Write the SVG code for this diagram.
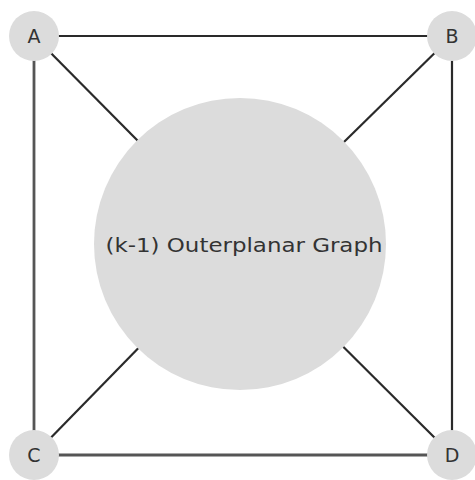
<svg xmlns="http://www.w3.org/2000/svg" width="475" height="480" viewBox="0 0 475 480">
<style>
.edge{stroke:#2a2a2a;stroke-width:2.2;fill:none}
.edge2{stroke:#555;stroke-width:2.8;fill:none}
.node{fill:#dcdcdc}
.lbl{font-family:"DejaVu Sans","Liberation Sans",sans-serif;fill:#333;text-anchor:middle}
</style>
<rect width="475" height="480" fill="#fff"/>
<g id="connectors">
<line class="edge" x1="34" y1="36" x2="452" y2="36"/>
<line class="edge" x1="452" y1="36" x2="452" y2="455"/>
<line class="edge2" x1="34" y1="36" x2="34" y2="455"/>
<line class="edge2" x1="34" y1="455" x2="452" y2="455"/>
<line class="edge" x1="34" y1="36" x2="240" y2="244"/>
<line class="edge" x1="452" y1="36" x2="240" y2="244"/>
<line class="edge" x1="34" y1="455" x2="240" y2="244"/>
<line class="edge" x1="452" y1="455" x2="240" y2="244"/>
</g>
<g id="graph">
<circle class="node" cx="240" cy="244" r="146"/>
<text class="lbl" x="244" y="252" font-size="20" textLength="277" lengthAdjust="spacingAndGlyphs">(k-1) Outerplanar Graph</text>
</g>
<g id="A"><circle class="node" cx="34" cy="36" r="25"/><text class="lbl" x="34" y="43" font-size="19">A</text></g>
<g id="B"><circle class="node" cx="452" cy="36" r="25"/><text class="lbl" x="452" y="43" font-size="19">B</text></g>
<g id="C"><circle class="node" cx="34" cy="455" r="25"/><text class="lbl" x="34" y="462" font-size="19">C</text></g>
<g id="D"><circle class="node" cx="452" cy="455" r="25"/><text class="lbl" x="452" y="462" font-size="19">D</text></g>
</svg>
